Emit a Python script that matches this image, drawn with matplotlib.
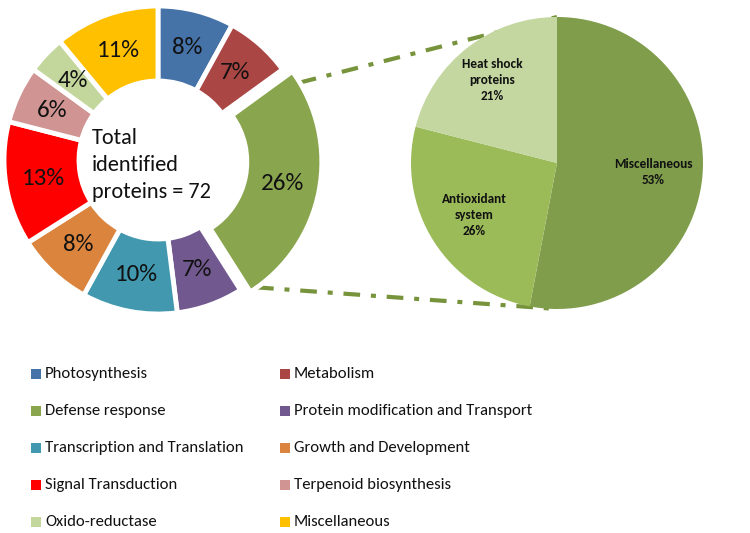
"""Donut of identified protein categories + pie-of-pie breakdown of the defense response."""
import numpy as np
import matplotlib
matplotlib.use("Agg")
import matplotlib.pyplot as plt
from matplotlib.patches import Rectangle

# ── data ──────────────────────────────────────────────────────────────────────
categories = ["Photosynthesis", "Metabolism", "Defense response",
              "Protein modification and Transport", "Transcription and Translation",
              "Growth and Development", "Signal Transduction", "Terpenoid biosynthesis",
              "Oxido-reductase", "Miscellaneous"]
shares = [8, 7, 26, 7, 10, 8, 13, 6, 4, 11]
colors = ["#4572A7", "#AA4643", "#89A54E", "#71588F", "#4198AF",
          "#DB843D", "#FF0000", "#D09493", "#C3D69B", "#FFC000"]
total_label = "Total\nidentified\nproteins = 72"

defense_parts = ["Miscellaneous", "Antioxidant\nsystem", "Heat shock\nproteins"]
defense_shares = [53, 26, 21]
defense_colors = ["#7F9D4B", "#9BBB59", "#C4D7A0"]

W, H = 750, 533
plt.rcParams["font.family"] = ["Carlito", "Lato", "DejaVu Sans"]


def py(y):
    """pixel row (from top) -> data y (from bottom)."""
    return H - y


fig = plt.figure(figsize=(7.5, 5.33), dpi=100)
ax = fig.add_axes([0, 0, 1, 1])

# ── donut ─────────────────────────────────────────────────────────────────────
R_OUT, R_IN = 154, 79
explode = [0] * len(shares)
explode[2] = 10
wedges, texts = ax.pie(
    shares, colors=colors, startangle=90, counterclock=False,
    radius=R_OUT, center=(158, py(160)), explode=explode,
    labels=[f"{v}%" for v in shares],
    labeldistance=(R_OUT + R_IN) / 2 / R_OUT,
    wedgeprops=dict(width=R_OUT - R_IN, edgecolor="white", linewidth=3.5),
    textprops=dict(fontsize=18, color="#111111"))
for t in texts:
    t.set_ha("center"); t.set_va("center")

ax.text(92, py(165), total_label, ha="left", va="center", fontsize=16,
        linespacing=1.45, color="#111111")

# ── secondary pie (defense response) ──────────────────────────────────────────
PC, PR = (557, py(163)), 146
w2, t2 = ax.pie(
    defense_shares, colors=defense_colors, startangle=90, counterclock=False,
    radius=PR, center=PC, labels=[f"{n}\n{v}%" for n, v in zip(defense_parts, defense_shares)],
    wedgeprops=dict(linewidth=0),
    textprops=dict(fontsize=9.5, fontweight="bold", color="#111111"))
for w, t, dist in zip(w2, t2, [0.66, 0.67, 0.72]):
    mid = np.radians((w.theta1 + w.theta2) / 2)
    t.set_position((PC[0] + dist * PR * np.cos(mid), PC[1] + dist * PR * np.sin(mid)))
    t.set_ha("center"); t.set_va("center"); t.set_linespacing(1.4)

# ── connector lines from the exploded defense wedge to the pie ────────────────
g = wedges[2]
gx, gy = g.center
for ang, (ex, ey) in ((g.theta2 - 5, (PC[0], PC[1] + PR)), (g.theta1 + 3, (PC[0], PC[1] - PR))):
    sx = gx + g.r * np.cos(np.radians(ang))
    sy = gy + g.r * np.sin(np.radians(ang))
    ax.plot([sx, ex], [sy, ey], color="#77933C", lw=3, zorder=0.5,
            linestyle=(0, (4, 2.6, 1.2, 2.6)), solid_capstyle="butt", dash_capstyle="butt")

# ── legend (two columns, row-wise order) ──────────────────────────────────────
col_x = [31, 280]
row_y = [374, 411, 448, 485, 522]
for i, (name, c) in enumerate(zip(categories, colors)):
    x0, y0 = col_x[i % 2], row_y[i // 2]
    ax.add_patch(Rectangle((x0, py(y0) - 5), 10, 10, facecolor=c, edgecolor="none"))
    ax.text(x0 + 14, py(y0), name, ha="left", va="center", fontsize=12,
            color="#111111")

ax.set_xlim(0, W)
ax.set_ylim(0, H)
ax.set_aspect("equal")
ax.axis("off")
fig.savefig("out.png", dpi=100)
